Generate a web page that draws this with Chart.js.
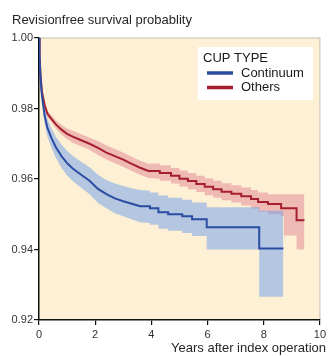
<!DOCTYPE html>
<html>
<head>
<meta charset="utf-8">
<script src="https://cdn.jsdelivr.net/npm/chart.js@4.4.0/dist/chart.umd.min.js"></script>
<style>
  html, body { margin: 0; padding: 0; background: #fff; }
  #wrap { width: 329px; height: 356px; }
</style>
</head>
<body>
<div id="wrap"><canvas id="km"></canvas></div>
<script>
// Kaplan-Meier estimates (repeated x = a vertical step)
var contTime  = [0, 0.02, 0.05, 0.1, 0.2, 0.3, 0.45, 0.6, 0.8, 1.0, 1.2, 1.5, 1.8, 2.1, 2.4, 2.7, 3.0, 3.3, 3.6,
                 3.95, 3.95, 4.25, 4.25, 4.6, 4.6, 5.1, 5.1, 5.45, 5.45, 5.97, 5.97, 7.84, 7.84, 8.7];
var contSurv  = [1.000, 0.995, 0.989, 0.984, 0.978, 0.9745, 0.9715, 0.969, 0.9665, 0.9645, 0.963, 0.9612, 0.9595, 0.9572, 0.9557, 0.9545, 0.9537, 0.953, 0.9523,
                 0.9523, 0.9517, 0.9517, 0.9506, 0.9506, 0.9500, 0.9500, 0.9494, 0.9494, 0.9486, 0.9486, 0.9463, 0.9463, 0.9403, 0.9403];
var contUpper = [1.000, 0.9958, 0.9902, 0.9858, 0.9802, 0.977, 0.9743, 0.972, 0.9698, 0.968, 0.9666, 0.9649, 0.9633, 0.9612, 0.9597, 0.9587, 0.958, 0.9574, 0.9569,
                 0.9567, 0.9562, 0.9562, 0.9553, 0.9553, 0.9547, 0.9547, 0.9541, 0.9541, 0.9533, 0.9533, 0.952, 0.952, 0.951, 0.951];
var contLower = [1.000, 0.9942, 0.9878, 0.9822, 0.9758, 0.972, 0.9687, 0.966, 0.9632, 0.961, 0.9594, 0.9575, 0.9557, 0.9532, 0.9517, 0.9503, 0.9494, 0.9486, 0.9477,
                 0.9475, 0.947, 0.947, 0.9459, 0.9459, 0.9453, 0.9453, 0.9447, 0.9447, 0.9438, 0.9438, 0.940, 0.940, 0.9266, 0.9266];

var othersTime  = [0, 0.02, 0.05, 0.1, 0.2, 0.3, 0.45, 0.6, 0.8, 1.0, 1.2, 1.5, 1.8, 2.1, 2.4, 2.7, 3.0, 3.3, 3.6, 3.9,
                   4.3, 4.3, 4.7, 4.7, 5.0, 5.0, 5.3, 5.3, 5.6, 5.6, 5.9, 5.9, 6.2, 6.2, 6.5, 6.5, 6.85, 6.85, 7.2, 7.2,
                   7.55, 7.55, 7.8, 7.8, 8.15, 8.15, 8.62, 8.62, 8.72, 8.72, 9.17, 9.17, 9.45];
var othersSurv  = [1.000, 0.995, 0.990, 0.985, 0.981, 0.9785, 0.977, 0.9755, 0.974, 0.9728, 0.972, 0.971, 0.970, 0.9688, 0.9675, 0.9665, 0.9655, 0.9643, 0.9632, 0.9623,
                   0.9623, 0.9617, 0.9617, 0.9609, 0.9609, 0.9601, 0.9601, 0.9594, 0.9594, 0.9586, 0.9586, 0.9578, 0.9578, 0.9571, 0.9571, 0.9564, 0.9564, 0.9558, 0.9558, 0.9551,
                   0.9551, 0.9543, 0.9543, 0.9535, 0.9535, 0.9529, 0.9529, 0.9517, 0.9517, 0.9517, 0.9517, 0.9483, 0.9483];
var othersUpper = [1.000, 0.9955, 0.9907, 0.9858, 0.982, 0.9795, 0.978, 0.9767, 0.9754, 0.9743, 0.9737, 0.9727, 0.9717, 0.9708, 0.9695, 0.9685, 0.9675, 0.9663, 0.9652, 0.9643,
                   0.9645, 0.9639, 0.9639, 0.9631, 0.9631, 0.9624, 0.9624, 0.9617, 0.9617, 0.9609, 0.9609, 0.9602, 0.9602, 0.9595, 0.9595, 0.9588, 0.9588, 0.9582, 0.9582, 0.9576,
                   0.9576, 0.9569, 0.9569, 0.9562, 0.9562, 0.9557, 0.9557, 0.9557, 0.9557, 0.9557, 0.9557, 0.9557, 0.9557];
var othersLower = [1.000, 0.9945, 0.9893, 0.9842, 0.980, 0.9775, 0.976, 0.9743, 0.9726, 0.9713, 0.9703, 0.9693, 0.9683, 0.9668, 0.9655, 0.9645, 0.9635, 0.9623, 0.9612, 0.9603,
                   0.9601, 0.9595, 0.9595, 0.9587, 0.9587, 0.9579, 0.9579, 0.9571, 0.9571, 0.9563, 0.9563, 0.9554, 0.9554, 0.9547, 0.9547, 0.954, 0.954, 0.9533, 0.9533, 0.9525,
                   0.9525, 0.9516, 0.9516, 0.9507, 0.9507, 0.950, 0.950, 0.9495, 0.9495, 0.944, 0.944, 0.940, 0.940];

var groupNames = ['Continuum', 'Others'];
var yTicks = [0.92, 0.94, 0.96, 0.98, 1.00];
var xTicks = [0, 2, 4, 6, 8, 10];

var blueLine = '#2a4ca3';
var redLine = '#a51f2e';
var blueBand = 'rgba(110,155,235,0.5)';
var redBand = 'rgba(222,120,140,0.45)';

function pts(t, v) {
    return t.map(function (x, i) { return { x: x, y: v[i] }; });
}

function band(t, v, fillTo, color) {
    return {
        data: pts(t, v),
        tension: 0,
        borderColor: 'rgba(0,0,0,0)',
        borderWidth: 0,
        pointRadius: 0,
        backgroundColor: color,
        fill: fillTo,
        order: 2
    };
}

var datasets = [
    band(contTime, contUpper, 1, blueBand),
    band(contTime, contLower, false, blueBand),
    band(othersTime, othersUpper, 3, redBand),
    band(othersTime, othersLower, false, redBand),
    {
        label: groupNames[0],
        data: pts(contTime, contSurv),
        tension: 0,
        borderColor: blueLine,
        borderWidth: 2,
        pointRadius: 0,
        fill: false,
        order: 0
    },
    {
        label: groupNames[1],
        data: pts(othersTime, othersSurv),
        tension: 0,
        borderColor: redLine,
        borderWidth: 2,
        pointRadius: 0,
        fill: false,
        order: 0
    }
];

// cream plot background, heading and boxed legend
var decor = {
    id: 'decor',
    beforeDraw: function (chart) {
        var a = chart.chartArea, ctx = chart.ctx;
        ctx.save();
        ctx.fillStyle = '#fdf0d4';
        ctx.fillRect(a.left, a.top, a.right - a.left, a.bottom - a.top);
        ctx.strokeStyle = '#d9d2c4';
        ctx.lineWidth = 1.5;
        ctx.beginPath();
        ctx.moveTo(a.left, a.top);
        ctx.lineTo(a.right, a.top);
        ctx.lineTo(a.right, a.bottom);
        ctx.stroke();
        ctx.restore();
    },
    afterDraw: function (chart) {
        var ctx = chart.ctx;
        ctx.save();
        ctx.fillStyle = '#262626';
        ctx.font = '13px "Liberation Sans", Arial, sans-serif';
        ctx.textBaseline = 'middle';
        ctx.fillText('Revisionfree survival probablity', 12, 20);

        ctx.fillStyle = '#ffffff';
        ctx.fillRect(198, 47, 115, 53);
        ctx.fillStyle = '#1a1a1a';
        ctx.fillText('CUP TYPE', 203, 58);
        var cols = [blueLine, redLine];
        groupNames.forEach(function (name, i) {
            var y = 73 + i * 14.5;
            ctx.strokeStyle = cols[i];
            ctx.lineWidth = 3.5;
            ctx.beginPath();
            ctx.moveTo(207, y);
            ctx.lineTo(233, y);
            ctx.stroke();
            ctx.fillStyle = '#1a1a1a';
            ctx.fillText(name, 241, y);
        });

        // axis title, right end a little past the axis as in the original
        ctx.fillStyle = '#262626';
        ctx.textAlign = 'right';
        ctx.fillText('Years after index operation', 326, 348);
        ctx.restore();
    }
};

new Chart(document.getElementById('km'), {
    type: 'line',
    data: { datasets: datasets },
    options: {
        responsive: true,
        maintainAspectRatio: false,
        animation: false,
        layout: { padding: { top: 38, right: 7, left: 0, bottom: 0 } },
        plugins: {
            legend: { display: false },
            tooltip: { enabled: false },
            title: { display: false }
        },
        scales: {
            x: {
                type: 'linear',
                min: 0,
                max: 10,
                afterBuildTicks: function (s) { s.ticks = xTicks.map(function (v) { return { value: v }; }); },
                afterFit: function (s) { s.height = 36; },
                ticks: {
                    maxRotation: 0,
                    padding: 3,
                    color: '#333',
                    font: { size: 11, family: '"Liberation Sans", Arial, sans-serif' }
                },
                grid: { drawOnChartArea: false, drawTicks: true, tickLength: 5, color: '#111', lineWidth: 1.2 },
                border: { display: true, color: '#111', width: 1.5 }
            },
            y: {
                type: 'linear',
                min: 0.92,
                max: 1.00,
                afterBuildTicks: function (s) { s.ticks = yTicks.map(function (v) { return { value: v }; }); },
                afterFit: function (s) { s.width = 39; },
                ticks: {
                    padding: 1,
                    color: '#333',
                    font: { size: 11, family: '"Liberation Sans", Arial, sans-serif' },
                    callback: function (v) { return Number(v).toFixed(2); }
                },
                grid: { drawOnChartArea: false, drawTicks: true, tickLength: 5, color: '#111', lineWidth: 1.2 },
                border: { display: true, color: '#111', width: 1.5 }
            }
        }
    },
    plugins: [decor]
});
</script>
</body>
</html>
